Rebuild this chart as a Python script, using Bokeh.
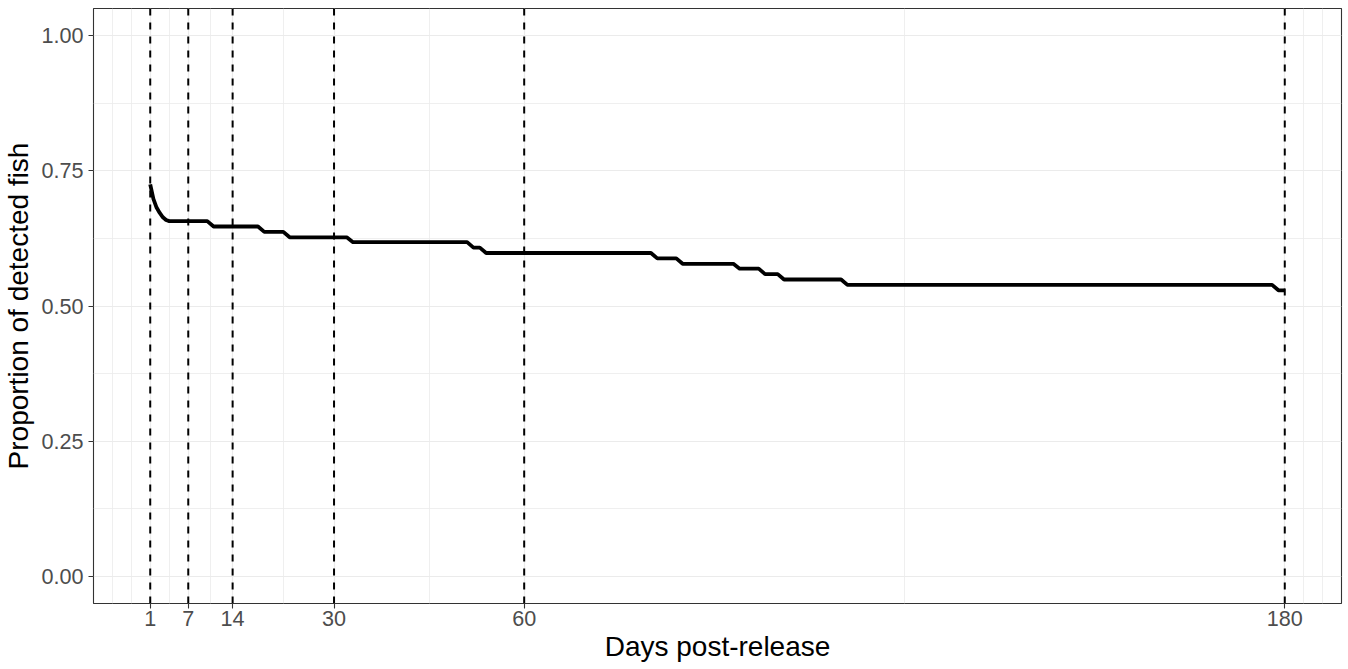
from bokeh.plotting import figure
from bokeh.models import Range1d, FixedTicker, NumeralTickFormatter, Span
from bokeh.embed import file_html
from bokeh.resources import INLINE

# ---- data ----
days = [1, 1.5, 2, 2.5, 3, 3.5, 4, 10, 11, 18, 19, 22, 23, 32, 33, 51, 52, 53, 54,
        80, 81, 84, 85, 93, 94, 97, 98, 100, 101, 110, 111, 178, 179, 180]
proportion = [0.725, 0.698, 0.682, 0.672, 0.664, 0.659, 0.657, 0.657, 0.647, 0.647,
              0.637, 0.637, 0.627, 0.627, 0.618, 0.618, 0.608, 0.608, 0.598, 0.598,
              0.588, 0.588, 0.578, 0.578, 0.569, 0.569, 0.559, 0.559, 0.549, 0.549,
              0.539, 0.539, 0.529, 0.529]

x_breaks = [1, 7, 14, 30, 60, 180]
x_minor = [-5, -2, 4, 10.5, 22, 45, 120, 183, 186]
y_breaks = [0.0, 0.25, 0.50, 0.75, 1.00]
y_minor = [0.125, 0.375, 0.625, 0.875]
marker_days = [1, 7, 14, 30, 60, 180]

FONT = "Liberation Sans"

p = figure(width=1348, height=669, output_backend="svg", toolbar_location=None,
           x_range=Range1d(-7.95, 188.95), y_range=Range1d(-0.05, 1.05),
           min_border_left=93, min_border_top=8, min_border_right=7,
           min_border_bottom=66)

p.background_fill_color = "white"
p.border_fill_color = "white"
p.outline_line_color = "#333333"
p.outline_line_width = 1.1

p.xaxis.ticker = FixedTicker(ticks=x_breaks, minor_ticks=x_minor)
p.yaxis.ticker = FixedTicker(ticks=y_breaks, minor_ticks=y_minor)
p.yaxis.formatter = NumeralTickFormatter(format="0.00")

for ax in (p.xaxis, p.yaxis):
    ax.axis_line_color = None
    ax.minor_tick_line_color = None
    ax.major_tick_in = 0
    ax.major_tick_out = 5
    ax.major_tick_line_color = "#333333"
    ax.major_tick_line_width = 1.1
    ax.major_label_text_font = FONT
    ax.major_label_text_font_size = "21.6px"
    ax.major_label_text_color = "#4D4D4D"
    ax.axis_label_text_font = FONT
    ax.axis_label_text_font_size = "28px"
    ax.axis_label_text_font_style = "normal"
    ax.axis_label_text_color = "black"

p.xaxis.axis_label = "Days post-release"
p.yaxis.axis_label = "Proportion of detected fish"
p.xaxis.major_label_standoff = 2
p.xaxis.axis_label_standoff = 2
p.yaxis.major_label_standoff = 5
p.yaxis.axis_label_standoff = 4

p.grid.grid_line_color = "#EBEBEB"
p.grid.grid_line_width = 1.2
p.grid.minor_grid_line_color = "#EBEBEB"
p.grid.minor_grid_line_width = 0.8

for d in marker_days:
    p.add_layout(Span(location=d, dimension="height", line_color="black",
                      line_width=2, line_dash="7 7"))

p.line(days, proportion, line_color="black", line_width=3.8, line_join="round")

open("out.html", "w").write(file_html(p, INLINE))
